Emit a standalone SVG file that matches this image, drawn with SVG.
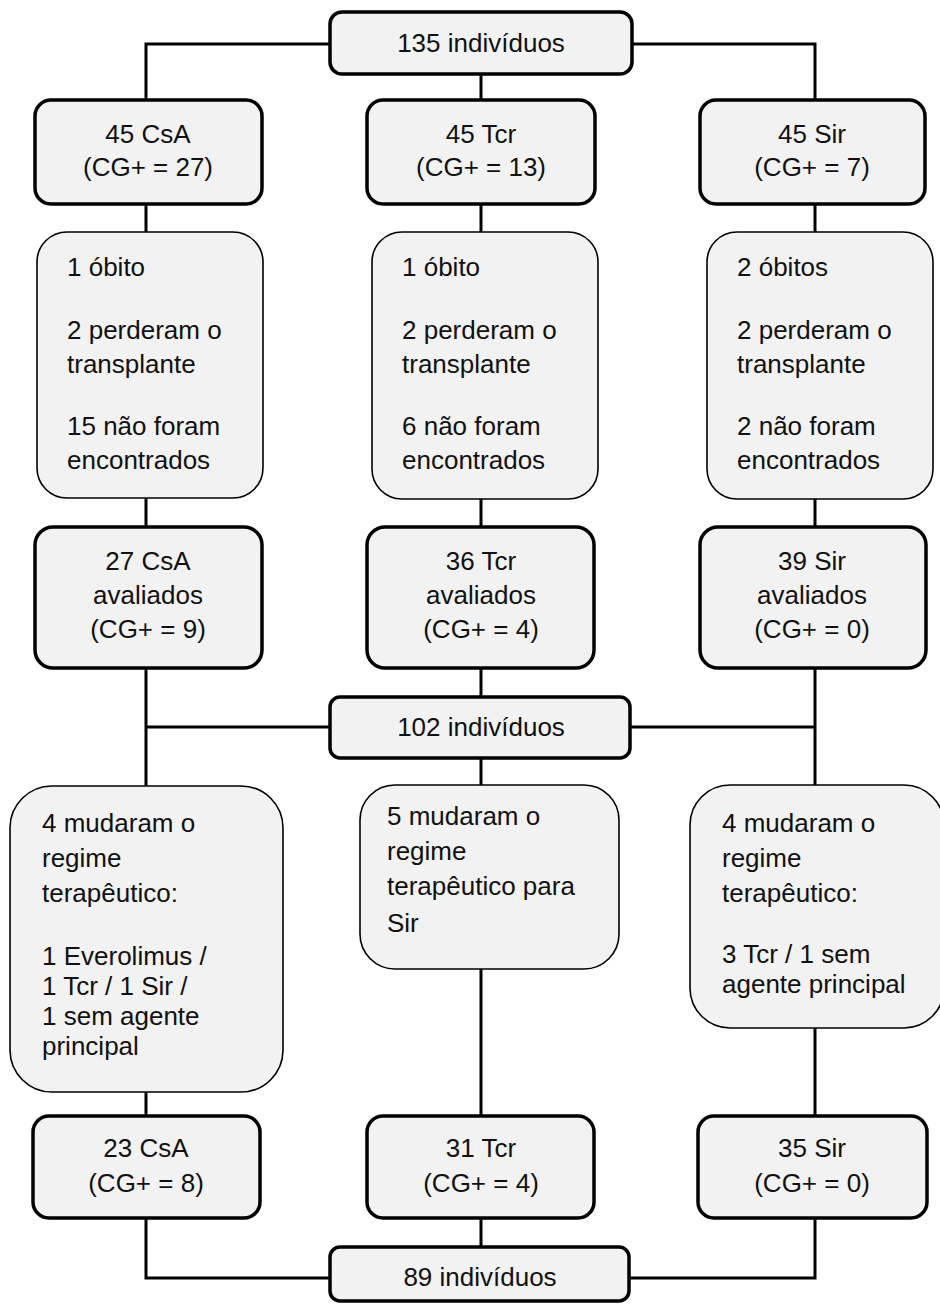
<svg xmlns="http://www.w3.org/2000/svg" width="940" height="1304" viewBox="0 0 940 1304">
<style>
.thick{fill:#f2f2f2;stroke:#000;stroke-width:3.5}
.thin{fill:#f2f2f2;stroke:#000;stroke-width:1.6}
.c{fill:none;stroke:#000;stroke-width:3}
text{font-family:"Liberation Sans",Arial,sans-serif;font-size:26px;fill:#111}
.m{text-anchor:middle}
</style>
<rect width="940" height="1304" fill="#fff"/>
<g id="connectors">
<path class="c" d="M330,44 H146 V100 M632,44 H815 V100 M481,74 V100"/>
<path class="c" d="M146,204 V232 M481,204 V232 M815,204 V232"/>
<path class="c" d="M146,498 V527 M481,499 V527 M815,499 V527"/>
<path class="c" d="M146,668 V786 M815,668 V786 M146,727 H330 M630,727 H815 M481,668 V697 M481,758 V786"/>
<path class="c" d="M146,1092 V1116 M481,969 V1116 M815,1028 V1116"/>
<path class="c" d="M146,1218 V1278 H330 M815,1218 V1278 H629 M481,1218 V1247"/>
</g>
<g id="n135"><rect class="thick" x="330" y="12" width="302" height="62" rx="12"/><text class="m" x="481" y="52">135 indivíduos</text></g>
<g id="csa45"><rect class="thick" x="35" y="100" width="227" height="104" rx="16"/><text class="m" x="148" y="143">45 CsA</text><text class="m" x="148" y="176">(CG+ = 27)</text></g>
<g id="tcr45"><rect class="thick" x="367" y="100" width="228" height="104" rx="16"/><text class="m" x="481" y="143">45 Tcr</text><text class="m" x="481" y="176">(CG+ = 13)</text></g>
<g id="sir45"><rect class="thick" x="700" y="100" width="225" height="104" rx="16"/><text class="m" x="812" y="143">45 Sir</text><text class="m" x="812" y="176">(CG+ = 7)</text></g>
<g id="loss-csa"><rect class="thin" x="37" y="232" width="226" height="266" rx="30"/>
<text x="67" y="276">1 óbito</text><text x="67" y="339">2 perderam o</text><text x="67" y="373">transplante</text><text x="67" y="435">15 não foram</text><text x="67" y="469">encontrados</text></g>
<g id="loss-tcr"><rect class="thin" x="372" y="232" width="226" height="267" rx="30"/>
<text x="402" y="276">1 óbito</text><text x="402" y="339">2 perderam o</text><text x="402" y="373">transplante</text><text x="402" y="435">6 não foram</text><text x="402" y="469">encontrados</text></g>
<g id="loss-sir"><rect class="thin" x="707" y="232" width="226" height="267" rx="30"/>
<text x="737" y="276">2 óbitos</text><text x="737" y="339">2 perderam o</text><text x="737" y="373">transplante</text><text x="737" y="435">2 não foram</text><text x="737" y="469">encontrados</text></g>
<g id="csa27"><rect class="thick" x="35" y="527" width="227" height="141" rx="18"/><text class="m" x="148" y="570">27 CsA</text><text class="m" x="148" y="604">avaliados</text><text class="m" x="148" y="638">(CG+ = 9)</text></g>
<g id="tcr36"><rect class="thick" x="367" y="527" width="227" height="141" rx="18"/><text class="m" x="481" y="570">36 Tcr</text><text class="m" x="481" y="604">avaliados</text><text class="m" x="481" y="638">(CG+ = 4)</text></g>
<g id="sir39"><rect class="thick" x="700" y="527" width="226" height="141" rx="18"/><text class="m" x="812" y="570">39 Sir</text><text class="m" x="812" y="604">avaliados</text><text class="m" x="812" y="638">(CG+ = 0)</text></g>
<g id="n102"><rect class="thick" x="330" y="697" width="300" height="61" rx="10"/><text class="m" x="481" y="736">102 indivíduos</text></g>
<g id="change-csa"><rect class="thin" x="10" y="786" width="273" height="306" rx="42"/>
<text x="42" y="832">4 mudaram o</text><text x="42" y="867">regime</text><text x="42" y="902">terapêutico:</text><text x="42" y="965">1 Everolimus /</text><text x="42" y="995">1 Tcr / 1 Sir /</text><text x="42" y="1025">1 sem agente</text><text x="42" y="1055">principal</text></g>
<g id="change-tcr"><rect class="thin" x="360" y="785" width="259" height="184" rx="35"/>
<text x="387" y="825">5 mudaram o</text><text x="387" y="860">regime</text><text x="387" y="895">terapêutico para</text><text x="387" y="932">Sir</text></g>
<g id="change-sir"><rect class="thin" x="690" y="785" width="254" height="243" rx="40"/>
<text x="722" y="832">4 mudaram o</text><text x="722" y="867">regime</text><text x="722" y="902">terapêutico:</text><text x="722" y="963">3 Tcr / 1 sem</text><text x="722" y="993">agente principal</text></g>
<g id="csa23"><rect class="thick" x="33" y="1116" width="227" height="102" rx="16"/><text class="m" x="146" y="1157">23 CsA</text><text class="m" x="146" y="1192">(CG+ = 8)</text></g>
<g id="tcr31"><rect class="thick" x="367" y="1116" width="227" height="102" rx="16"/><text class="m" x="481" y="1157">31 Tcr</text><text class="m" x="481" y="1192">(CG+ = 4)</text></g>
<g id="sir35"><rect class="thick" x="698" y="1116" width="229" height="102" rx="16"/><text class="m" x="812" y="1157">35 Sir</text><text class="m" x="812" y="1192">(CG+ = 0)</text></g>
<g id="n89"><rect class="thick" x="330" y="1247" width="299" height="54" rx="10"/><text class="m" x="480" y="1286">89 indivíduos</text></g>
</svg>
